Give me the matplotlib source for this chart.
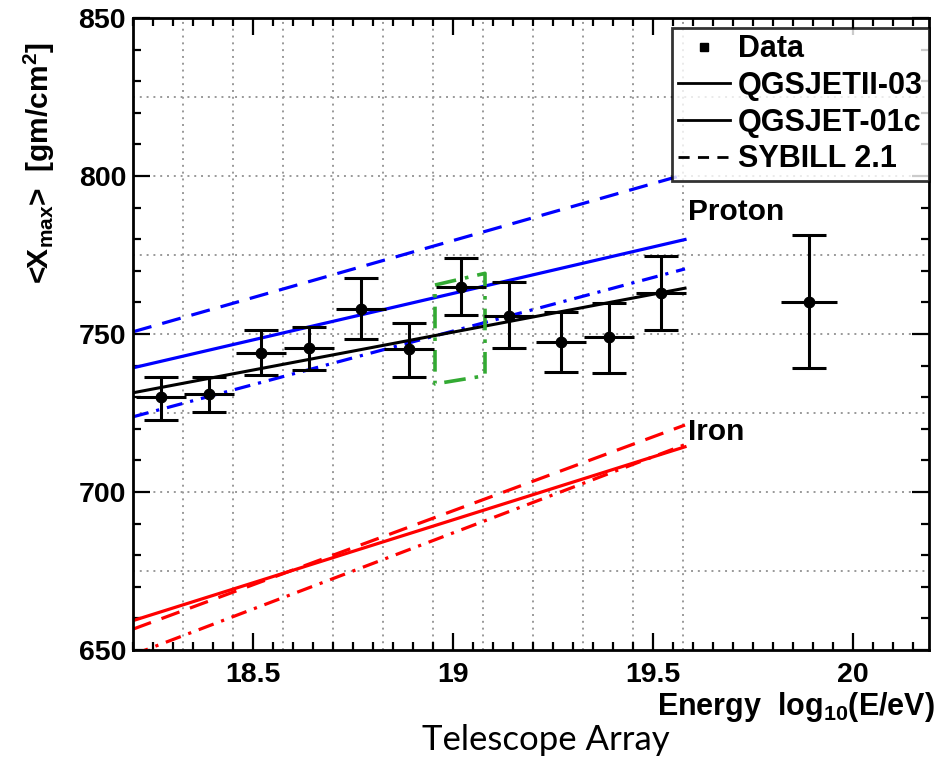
import matplotlib
matplotlib.use("Agg")
import matplotlib.pyplot as plt
from matplotlib.lines import Line2D

plt.rcParams['font.family'] = ['Liberation Sans', 'DejaVu Sans']
plt.rcParams['font.weight'] = 'bold'
plt.rcParams['mathtext.default'] = 'regular'

# TA data points
energy = [18.27, 18.39, 18.52, 18.64, 18.77, 18.89, 19.02, 19.14, 19.27, 19.39, 19.52, 19.89]
xmax = [730.1, 731.0, 744.0, 745.6, 757.9, 745.3, 764.9, 755.7, 747.5, 749.1, 763.0, 760.1]
err_up = [6.3, 5.4, 7.3, 6.6, 9.8, 8.2, 9.2, 10.8, 9.5, 10.7, 11.7, 21.2]
err_down = [7.3, 5.7, 7.0, 7.0, 9.5, 8.9, 8.9, 10.1, 9.5, 11.4, 11.7, 20.9]
bin_half = [0.0625, 0.0625, 0.0625, 0.0625, 0.0625, 0.0625, 0.0625, 0.0625, 0.0625, 0.0625, 0.0625, 0.07]

# model predictions (start / end of each line)
line_x = [18.2, 19.58]
proton_qgsjetii = [739.3, 779.9]
proton_sibyll = [750.7, 800.5]
proton_qgsjet01 = [723.8, 770.6]
iron_qgsjetii = [659.3, 714.3]
iron_sibyll = [656.6, 721.2]
iron_qgsjet01 = [648.5, 715.0]
data_fit = [731.4, 764.5]

# green box
box_x = [18.955, 19.08, 19.08, 18.955, 18.955]
box_y = [765.5, 769.2, 736.8, 734.2, 765.5]

fig = plt.figure(figsize=(9.4, 7.64), dpi=100)
ax = fig.add_axes([133/940, 114/764, 796/940, 632/764])

# dotted grid
grid_x = [18.325, 18.45, 18.575, 18.7, 18.825, 18.95, 19.075, 19.2, 19.325, 19.45, 19.575]
grid_y = [675, 700, 725, 750, 775, 800, 825]
for gx in grid_x:
    ax.axvline(gx, color='#999999', lw=1.4, ls=(0, (1, 2.5)), zorder=0)
for gy in grid_y:
    ax.axhline(gy, color='#999999', lw=1.4, ls=(0, (1, 2.5)), zorder=0)

ax.plot(line_x, proton_qgsjetii, color='blue', lw=2.3)
ax.plot(line_x, proton_sibyll, color='blue', lw=2.3, ls=(0, (6, 3.5)))
ax.plot(line_x, proton_qgsjet01, color='blue', lw=2.3, ls=(0, (5, 2.5, 1, 2.5)))
ax.plot(line_x, iron_qgsjetii, color='red', lw=2.3)
ax.plot(line_x, iron_sibyll, color='red', lw=2.3, ls=(0, (6, 3.5)))
ax.plot(line_x, iron_qgsjet01, color='red', lw=2.3, ls=(0, (5, 2.5, 1, 2.5)))
ax.plot(line_x, data_fit, color='black', lw=2.2)

ax.plot(box_x, box_y, color='#33aa33', lw=2.6, ls=(0, (6, 2.5, 1, 2.5)))

ax.errorbar(energy, xmax, xerr=bin_half, fmt='none', ecolor='black', elinewidth=2.2, capsize=0)
ax.errorbar(energy, xmax, yerr=[err_down, err_up], fmt='o', color='black', ms=7.5,
            ecolor='black', elinewidth=2.2, capsize=12.5, capthick=2.2)

ax.text(19.5875, 786.1, 'Proton', fontsize=21.5, fontweight='bold', va='baseline')
ax.text(19.5875, 716.5, 'Iron', fontsize=21.5, fontweight='bold', va='baseline')

ax.set_xlim(18.2, 20.19)
ax.set_ylim(650, 850)
ax.set_xticks([18.5, 19.0, 19.5, 20.0])
ax.set_xticklabels(['18.5', '19', '19.5', '20'])
ax.set_yticks([650, 700, 750, 800, 850])
ax.xaxis.set_minor_locator(matplotlib.ticker.MultipleLocator(0.05))
ax.yaxis.set_minor_locator(matplotlib.ticker.MultipleLocator(10))
ax.tick_params(which='both', direction='in', top=True, right=True, labelsize=20.5, width=1.6)
ax.tick_params(which='major', length=12)
ax.tick_params(which='minor', length=6)
ax.tick_params(axis='x', pad=9)
ax.tick_params(axis='y', pad=5)
for lab in ax.get_xticklabels() + ax.get_yticklabels():
    lab.set_fontweight('bold')
for sp in ax.spines.values():
    sp.set_linewidth(2.0)

ax.text(-0.117, 0.77, r'<X$_{max}$>  [gm/cm$^{2}$]', rotation=90, fontsize=21.5,
        fontweight='bold', ha='center', va='center', transform=ax.transAxes)
ax.text(1.0075, -0.103, r'Energy  log$_{10}$(E/eV)', fontsize=22, fontweight='bold',
        ha='right', va='baseline', transform=ax.transAxes)

handles = [
    Line2D([], [], color='black', marker='s', ms=6, ls='none'),
    Line2D([], [], color='black', lw=2.0),
    Line2D([], [], color='black', lw=2.0),
    Line2D([], [], color='black', lw=2.0, ls=(0, (4, 3))),
]
labels = ['Data', 'QGSJETII-03', 'QGSJET-01c', 'SYBILL 2.1']
leg = ax.legend(handles, labels, loc='upper right', bbox_to_anchor=(1.0, 0.984),
                borderaxespad=0, fontsize=22, frameon=True, fancybox=False,
                edgecolor='black', handlelength=1.7, handletextpad=0.26,
                labelspacing=0.22, borderpad=0.2)
leg.get_frame().set_linewidth(2.0)
for t in leg.get_texts():
    t.set_fontweight('bold')

fig.text(670/940, 1 - 740/764, 'Telescope Array', fontsize=25, fontweight='normal',
         family=['Lato', 'DejaVu Sans'], ha='right', va='center')

fig.savefig('out.png', dpi=100)
